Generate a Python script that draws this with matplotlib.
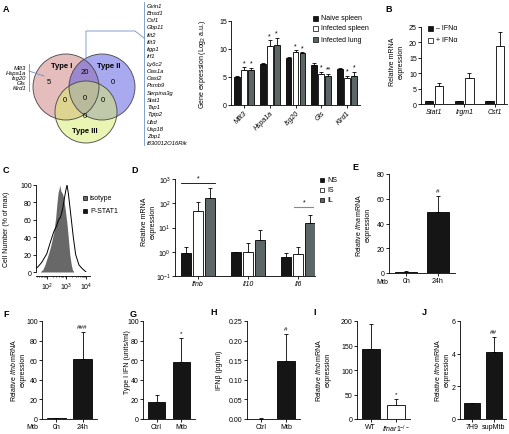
import numpy as np
import matplotlib
matplotlib.use("Agg")
import matplotlib.pyplot as plt
from matplotlib.patches import Circle, Rectangle
from matplotlib.ticker import NullLocator

plt.rcParams["font.family"] = ["Liberation Sans", "DejaVu Sans"]
plt.rcParams["mathtext.fontset"] = "custom"
plt.rcParams["mathtext.rm"] = "Liberation Sans"
plt.rcParams["mathtext.it"] = "Liberation Sans:italic"
plt.rcParams["mathtext.bf"] = "Liberation Sans:bold"
plt.rcParams["axes.linewidth"] = 0.6

# -------------------
# Data
# -------------------

# A - venn
venn_names = ["Type I", "Type II", "Type III"]
venn_counts = [5, 0, 0, 20, 0, 0, 0]   # I, II, III, I&II, I&III, II&III, all
type1_only = ["Mllt3", "Hspa1a", "Isg20", "Gls", "Klrd1"]
type1_type2 = ["Gvin1", "Bnsd1", "Csf1", "Gbp11", "Ifit2", "Ifit3", "Iigp1",
               "Irf1", "Ly6c2", "Oas1a", "Oasl2", "Psmb9", "Serpina3g", "Stat1",
               "Tap1", "Tgtp2", "Ubd", "Usp18", "Zbp1", "I830012O16Rik"]

# A - bars
genes_a = ["Mllt3", "Hspa1a", "Isg20", "Gls", "Klrd1"]
naive = [5.0, 7.4, 8.4, 7.1, 6.5]
naive_err = [0.15, 0.1, 0.2, 0.35, 0.15]
inf_spleen = [6.3, 10.6, 9.5, 5.6, 4.9]
inf_spleen_err = [0.45, 1.0, 0.3, 0.35, 0.35]
inf_lung = [6.25, 10.8, 9.3, 5.2, 5.1]
inf_lung_err = [0.4, 1.2, 0.1, 0.35, 0.8]
stars_spleen = ["*", "*", "*", "*", "*"]
stars_lung = ["*", "*", "*", "**", "*"]

# B
genes_b = ["Stat1", "Irgm1", "Csf1"]
minus_ifn = [1.0, 1.0, 1.0]
minus_ifn_err = [0.05, 0.05, 0.05]
plus_ifn = [6.0, 8.5, 18.8]
plus_ifn_err = [0.9, 1.6, 4.6]

# C - histogram (log10 intensity, % of max)
iso_x = [1.66, 1.8, 1.9, 2.0, 2.1, 2.2, 2.35, 2.45, 2.52, 2.58, 2.63, 2.66,
         2.72, 2.8, 2.86, 2.95, 3.03, 3.1, 3.17, 3.25, 3.3, 3.38]
iso_y = [0, 3, 8, 15, 22, 30, 45, 62, 80, 92, 96, 100, 93, 90, 85, 70, 55,
         38, 20, 8, 3, 0]
pstat_x = [1.4, 1.55, 1.74, 2.0, 2.15, 2.35, 2.5, 2.6, 2.7, 2.8, 2.9, 2.97,
           3.03, 3.1, 3.2, 3.35, 3.47, 3.64, 3.8, 3.9, 4.0]
pstat_y = [3, 6, 11, 21, 32, 46, 53, 60, 63, 72, 85, 94, 100, 90, 70, 40,
           20, 8, 4, 2, 0]

# D
genes_d = ["Ifnb", "Il10", "Il6"]
d_ns = [0.9, 0.95, 0.58]
d_ns_top = [1.5, 1.0, 0.92]
d_is = [48, 1.0, 0.8]
d_is_top = [115, 2.2, 1.6]
d_il = [165, 3.0, 15.5]
d_il_top = [420, 7.6, 33]

# E - J
mtb_time = ["0h", "24h"]
ifna_e = [1.0, 49.5]
ifna_e_err = [0.3, 13]
ifnb_f = [1.0, 61.5]
ifnb_f_err = [0.2, 27.5]
ctrl_mtb = ["Ctrl", "Mtb"]
ifn_g = [17, 58.5]
ifn_g_err = [8, 24.5]
ifnb_h = [0.001, 0.147]
ifnb_h_err = [0.0005, 0.071]
genotype = ["WT", r"$\mathit{Ifnar1}^{-/-}$"]
ifnb_i = [142, 28]
ifnb_i_err = [52, 12]
sup = ["7H9", "supMtb"]
ifnb_j = [1.0, 4.1]
ifnb_j_err = [0.0, 0.95]

BLACK = "#151515"
GRAY = "#5c6666"
FS = 5

W, H = 510, 435
fig = plt.figure(figsize=(W / 100, H / 100), dpi=100)


def box(l, t, r, b):
    ax = fig.add_axes([l / W, 1 - b / H, (r - l) / W, (b - t) / H])
    ax.patch.set_alpha(0)
    for s in ["top", "right"]:
        ax.spines[s].set_visible(False)
    ax.tick_params(width=0.6, length=2, labelsize=FS, pad=1)
    return ax


def bars(ax, x, vals, errs, color, width):
    ax.bar(x, vals, width, color=color, edgecolor="k", linewidth=0.6, zorder=2)
    ax.errorbar(x, vals, yerr=[np.zeros(len(vals)), errs], fmt="none",
                ecolor="k", elinewidth=0.6, capsize=1.5, capthick=0.6, zorder=1)


def two_bars(ax, vals, errs, labels, colors, mark, ymax, yticks):
    x = np.arange(len(vals))
    bars(ax, x, vals, errs, colors, 0.7)
    ax.set_xlim(-0.55, 1.55)
    ax.set_ylim(0, ymax)
    ax.set_yticks(yticks)
    ax.set_xticks(x)
    ax.set_xticklabels(labels)
    ax.text(1, vals[1] + errs[1] + ymax * 0.03, mark, ha="center",
            va="bottom", fontsize=4.5)


# -------------------
# A - bar chart
# -------------------

ax = box(231, 22, 360, 106)
x = np.arange(len(genes_a))
off = 0.27
bars(ax, x - off, naive, naive_err, BLACK, 0.22)
bars(ax, x, inf_spleen, inf_spleen_err, "white", 0.22)
bars(ax, x + off, inf_lung, inf_lung_err, GRAY, 0.22)
for i in range(len(genes_a)):
    ax.text(i, inf_spleen[i] + inf_spleen_err[i] + 0.2, stars_spleen[i],
            ha="center", va="bottom", fontsize=FS)
    ax.text(i + off, inf_lung[i] + inf_lung_err[i] + 0.2, stars_lung[i],
            ha="center", va="bottom", fontsize=FS)
ax.set_xlim(-0.5, 4.5)
ax.set_ylim(0, 15)
ax.set_yticks([0, 5, 10, 15])
ax.set_xticks(x)
ax.set_xticklabels(genes_a, rotation=45, ha="right", rotation_mode="anchor",
                   style="italic")

# -------------------
# B
# -------------------

ax = box(421, 28, 507, 105)
x = np.arange(len(genes_b))
bars(ax, x - 0.17, minus_ifn, minus_ifn_err, BLACK, 0.27)
bars(ax, x + 0.17, plus_ifn, plus_ifn_err, "white", 0.27)
ax.set_xlim(-0.43, 2.41)
ax.set_ylim(0, 25)
ax.set_yticks([0, 5, 10, 15, 20, 25])
ax.set_xticks(x)
ax.set_xticklabels(genes_b, style="italic")

# -------------------
# C - histogram
# -------------------

ax = box(36, 186, 90, 273)
ax.set_xscale("log")
ax.fill_between(10 ** np.array(iso_x), iso_y, color="#686868", lw=0)
ax.plot(10 ** np.array(pstat_x), pstat_y, color="k", lw=0.7)
ax.set_xlim(10 ** 1.45, 10 ** 4.2)
ax.set_ylim(0, 100)
ax.set_yticks([0, 20, 40, 60, 80, 100])
ax.set_xticks([1e2, 1e3, 1e4])
ax.spines["bottom"].set_position(("outward", 3))
ax.tick_params(axis="x", which="minor", length=1, width=0.5)

# -------------------
# D
# -------------------

ax = box(175, 180, 315, 277)
ax.set_yscale("log")
x = np.arange(len(genes_d))
off = 0.24
bars(ax, x - off, d_ns, np.array(d_ns_top) - np.array(d_ns), BLACK, 0.2)
bars(ax, x, d_is, np.array(d_is_top) - np.array(d_is), "white", 0.2)
bars(ax, x + off, d_il, np.array(d_il_top) - np.array(d_il), GRAY, 0.2)
ax.set_xlim(-0.46, 2.34)
ax.set_ylim(0.1, 1000)
ax.set_yticks([0.1, 1, 10, 100, 1000])
ax.yaxis.set_minor_locator(NullLocator())
ax.set_xticks(x)
ax.set_xticklabels(genes_d, style="italic")
ax.plot([-off - 0.1, off + 0.1], [690, 690], color="k", lw=0.6)
ax.text(0, 800, "*", ha="center", va="bottom", fontsize=FS)
ax.plot([2 - 0.08, 2 + off + 0.05], [70, 70], color="#888888", lw=0.8)
ax.text(2 + off / 2, 82, "*", ha="center", va="bottom", fontsize=FS)

# -------------------
# E - J
# -------------------

ax = box(389, 175, 455, 274)
two_bars(ax, ifna_e, ifna_e_err, mtb_time, BLACK, "#", 80, [0, 20, 40, 60, 80])

ax = box(42, 322, 97, 420)
two_bars(ax, ifnb_f, ifnb_f_err, mtb_time, BLACK, "###", 100,
         [0, 20, 40, 60, 80, 100])

ax = box(143, 322, 195, 420)
two_bars(ax, ifn_g, ifn_g_err, ctrl_mtb, BLACK, "*", 100,
         [0, 20, 40, 60, 80, 100])

ax = box(247, 322, 300, 420)
two_bars(ax, ifnb_h, ifnb_h_err, ctrl_mtb, BLACK, "#", 0.25,
         [0, 0.05, 0.10, 0.15, 0.20, 0.25])
ax.set_yticklabels(["0.00", "0.05", "0.10", "0.15", "0.20", "0.25"])

ax = box(357, 322, 410, 420)
two_bars(ax, ifnb_i, ifnb_i_err, genotype, [BLACK, "white"], "*", 200,
         [0, 50, 100, 150, 200])

ax = box(460, 322, 506, 420)
two_bars(ax, ifnb_j, ifnb_j_err, sup, BLACK, "##", 6, [0, 2, 4, 6])

# -------------------
# Overlay: venn, labels, legends
# -------------------

ov = fig.add_axes([0, 0, 1, 1])
ov.set_xlim(0, W)
ov.set_ylim(H, 0)
ov.axis("off")
ov.patch.set_alpha(0)

centers = [(66, 88), (102, 88), (86, 113)]
radii = [33, 33, 31]
fills = ["#cd7d7d", "#5555e1", "#d7eb69"]
for c, r, f in zip(centers, radii, fills):
    ov.add_patch(Circle(c, r, facecolor=f, alpha=0.5, lw=0))
for c, r in zip(centers, radii):
    ov.add_patch(Circle(c, r, facecolor="none", edgecolor="#444444", lw=0.6))

ov.text(62, 67, venn_names[0], ha="center", va="center", fontsize=5.5,
        weight="bold")
ov.text(109, 67, venn_names[1], ha="center", va="center", fontsize=5.5,
        weight="bold")
ov.text(85, 132, venn_names[2], ha="center", va="center", fontsize=5.5,
        weight="bold")
count_pos = [(49, 83), (113, 83), (85, 117), (85, 73), (65, 100), (103, 100),
             (85, 98)]
for (px, py), n in zip(count_pos, venn_counts):
    ov.text(px, py, str(n), ha="center", va="center", fontsize=5.5)

line_c = "#7090c8"
for i, g in enumerate(type1_only):
    ov.text(26, 68 + i * 5.2, g, ha="right", va="center", fontsize=4.2,
            style="italic")
ov.plot([29, 29], [65, 92], color=line_c, lw=0.6)
ov.plot([29, 44], [72, 77], color=line_c, lw=0.6)

for i, g in enumerate(type1_type2):
    ov.text(147, 6 + i * 7.26, g, ha="left", va="center", fontsize=4.2,
            style="italic")
ov.plot([144, 144], [3, 146], color=line_c, lw=0.6)
ov.plot([86, 86, 135, 144], [62, 32, 32, 39], color=line_c, lw=0.6)

# legends
def key(px, py, color, text, size=5):
    ov.add_patch(Rectangle((px, py - size / 2), size, size, facecolor=color,
                           edgecolor="k", lw=0.5))
    ov.text(px + size + 3, py, text, ha="left", va="center", fontsize=FS)

key(313, 19, BLACK, "Naive spleen")
key(313, 29, "white", "Infected spleen")
key(313, 40, GRAY, "Infected lung")

key(428, 29, BLACK, "\u2013 IFN\u03b1")
key(428, 41, "white", "+ IFN\u03b1")

key(83, 199, "#686868", "isotype", 4)
key(83, 212, BLACK, "P-STAT1", 4)

key(320, 181, BLACK, "NS", 4)
key(320, 191, "white", "IS", 4)
key(320, 201, GRAY, "IL", 4)

# y labels
ylabels = [
    (203, 64, "Gene expression (Log$_2$ a.u.)"),
    (397, 62, "Relative mRNA\nexpression"),
    (7, 229, "Cell Number (% of max)"),
    (149, 222, "Relative mRNA\nexpression"),
    (363, 225, "Relative $\\mathit{Ifna}$ mRNA\nexpression"),
    (18, 370, "Relative $\\mathit{Ifnb}$ mRNA\nexpression"),
    (128, 362, "Type I IFN (units/ml)"),
    (220, 370, "IFN\u03b2 (pg/ml)"),
    (323, 370, "Relative $\\mathit{Ifnb}$ mRNA\nexpression"),
    (442, 370, "Relative $\\mathit{Ifnb}$ mRNA\nexpression"),
]
for px, py, s in ylabels:
    ov.text(px, py, s, rotation=90, ha="center", va="center", fontsize=FS,
            multialignment="center")

ov.text(382, 283, "Mtb", ha="center", va="center", fontsize=FS)
ov.text(32, 428, "Mtb", ha="center", va="center", fontsize=FS)

letters = [("A", 3, 5), ("B", 385, 5), ("C", 3, 166), ("D", 131, 166),
           ("E", 352, 163), ("F", 3, 310), ("G", 130, 310), ("H", 210, 308),
           ("I", 313, 308), ("J", 422, 308)]
for s, px, py in letters:
    ov.text(px, py, s, ha="left", va="top", fontsize=6.5, weight="bold")

fig.savefig("out.png", dpi=100)
